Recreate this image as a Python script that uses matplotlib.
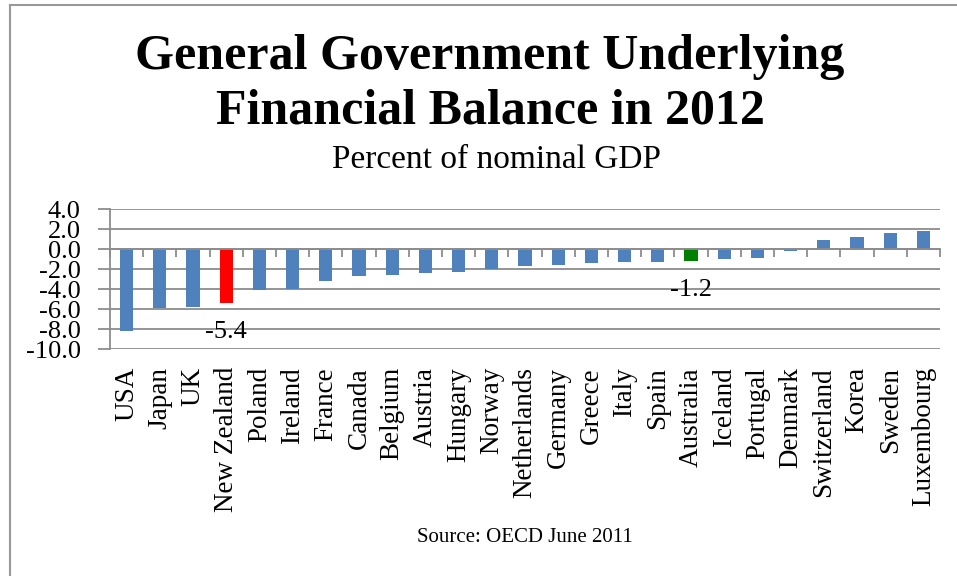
import matplotlib
matplotlib.use("Agg")
import matplotlib.pyplot as plt
import numpy as np
from matplotlib.lines import Line2D

countries = ["USA", "Japan", "UK", "New Zealand", "Poland", "Ireland", "France",
             "Canada", "Belgium", "Austria", "Hungary", "Norway", "Netherlands",
             "Germany", "Greece", "Italy", "Spain", "Australia", "Iceland",
             "Portugal", "Denmark", "Switzerland", "Korea", "Sweden", "Luxembourg"]
balance = [-8.2, -5.9, -5.8, -5.4, -4.1, -4.0, -3.2, -2.7, -2.6, -2.4, -2.3, -2.0,
           -1.7, -1.6, -1.4, -1.3, -1.25, -1.2, -1.0, -0.9, -0.2, 0.9, 1.2, 1.6, 1.8]
highlight = {"New Zealand": "#FF0000", "Australia": "#008000"}
labelled = ["New Zealand", "Australia"]
yticks = [-10, -8, -6, -4, -2, 0, 2, 4]

base_color = "#4F81BD"
grid_color = "#8C8C8C"
serif = ["Liberation Serif", "DejaVu Serif"]

fig = plt.figure(figsize=(9.57, 5.76), dpi=100)
ax = fig.add_axes([110/957, 1-349/576, 830/957, 140/576])

x = np.arange(len(countries))
colors = [highlight.get(c, base_color) for c in countries]
ax.bar(x, balance, width=0.4, color=colors, zorder=3)

ax.set_xlim(-0.5, len(countries) - 0.5)
ax.set_ylim(-10, 4)
ax.set_yticks(yticks)
ax.set_yticklabels([f"{v:.1f}" for v in yticks], fontfamily=serif, fontsize=19)
ax.yaxis.grid(True, color=grid_color, linewidth=1.3, zorder=0)
ax.tick_params(axis="y", length=9, width=1.3, color=grid_color, pad=12)

for s in ["top", "right"]:
    ax.spines[s].set_visible(False)
ax.spines["left"].set_color(grid_color)
ax.spines["left"].set_linewidth(1.3)
ax.spines["bottom"].set_position(("data", 0))
ax.spines["bottom"].set_color(grid_color)
ax.spines["bottom"].set_linewidth(1.3)
ax.spines["bottom"].set_zorder(4)

ax.set_xticks(x)
ax.set_xticklabels(countries, rotation=90, fontfamily=serif, fontsize=19.5)
ax.set_xticks(np.arange(-0.5, len(countries), 1), minor=True)
ax.tick_params(axis="x", which="major", length=0, pad=85)
ax.tick_params(axis="x", which="minor", length=6, width=1.3, color=grid_color, direction="out")

for c in labelled:
    i = countries.index(c)
    v = balance[i]
    ax.annotate(f"{v:.1f}", xy=(i, v), xytext=(0, -21), textcoords="offset points",
                ha="center", va="center", fontfamily=serif, fontsize=19)

fig.text(490/957, 1-57/576, "General Government Underlying", ha="center", va="center",
         fontfamily=serif, fontweight="bold", fontsize=36)
fig.text(490/957, 1-112/576, "Financial Balance in 2012", ha="center", va="center",
         fontfamily=serif, fontweight="bold", fontsize=36)
fig.text(497/957, 1-160/576, "Percent of nominal GDP", ha="center", va="center",
         fontfamily=serif, fontsize=24)
fig.text(525/957, 1-537/576, "Source: OECD June 2011", ha="center", va="center",
         fontfamily=serif, fontsize=15)

fig.add_artist(Line2D([10/957, 10/957], [0, 1-5/576], transform=fig.transFigure,
                      color="#999999", linewidth=1.5))
fig.add_artist(Line2D([10/957, 1], [1-5/576, 1-5/576], transform=fig.transFigure,
                      color="#999999", linewidth=1.5))

fig.savefig("out.png", dpi=100)
